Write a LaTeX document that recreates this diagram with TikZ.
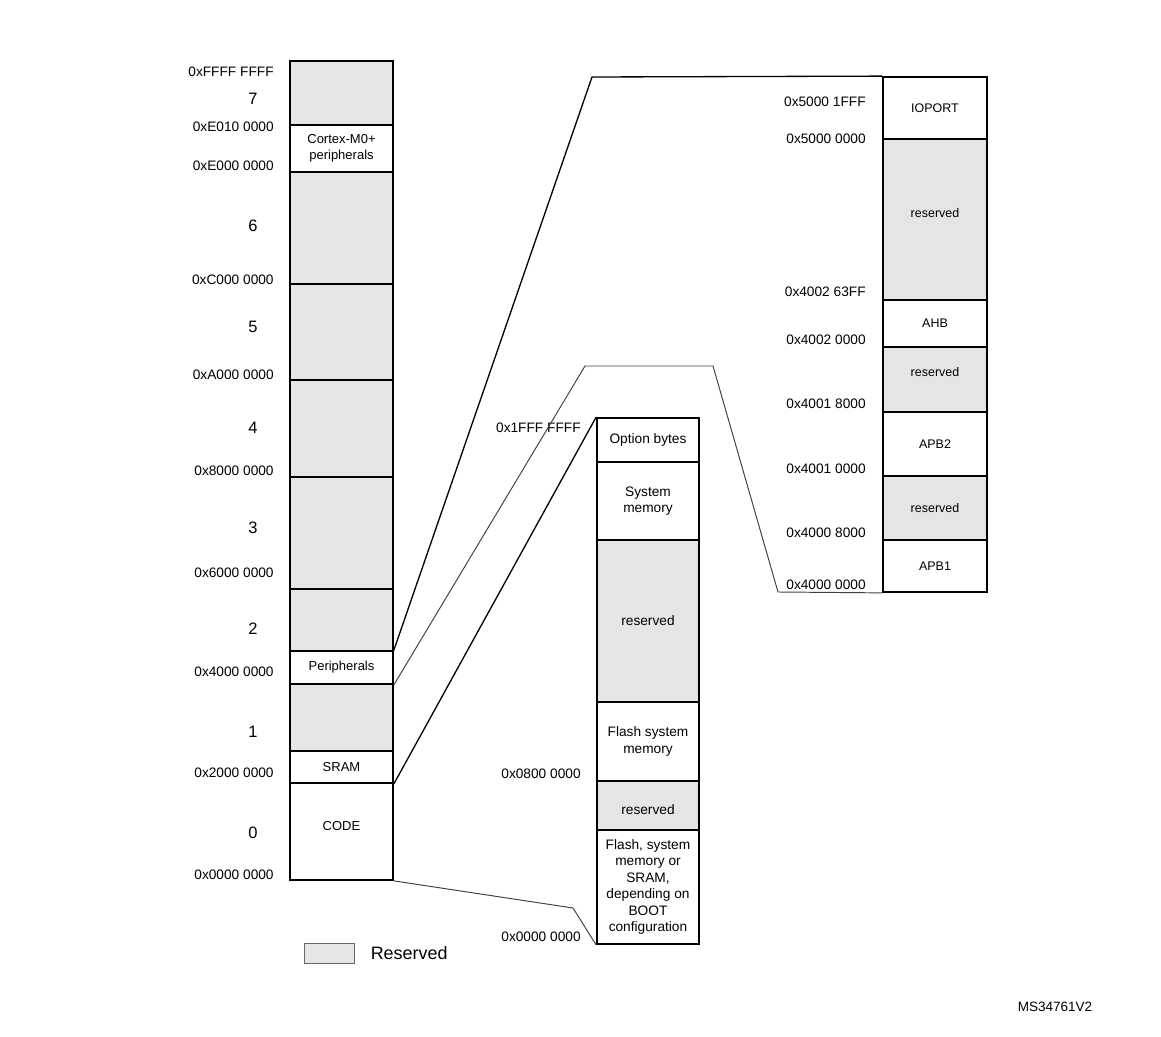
\documentclass[tikz,border=0pt]{standalone}
\usepackage{fontspec}
\setmainfont{Liberation Sans}
\usetikzlibrary{fit}
\usetikzlibrary{positioning}
\definecolor{resgray}{rgb}{0.9,0.9,0.9}

\begin{document}
\begin{tikzpicture}[%
  x=0.02cm, y=-0.02cm,
  blk/.style={draw=black, line width=1pt, fill=white, inner sep=0pt},
  resv/.style={blk, fill=resgray},
  txt/.style={inner sep=0pt, align=center, font=\fontsize{7.4}{9.4}\selectfont},
  midtxt/.style={txt, font=\fontsize{7.8}{9.4}\selectfont},
  rtxt/.style={txt, font=\fontsize{7.1}{9}\selectfont},
  addr/.style={anchor=east, inner sep=0pt, font=\fontsize{7.8}{8}\selectfont},
  region/.style={inner sep=0pt, font=\fontsize{9.4}{10}\selectfont},
  link/.style={line width=0.75pt},
  thinlink/.style={line width=0.55pt, black!75},
]
  \useasboundingbox (0,0) rectangle (1161,1037);

  % system memory map
  \node[resv, fit={(290,61) (393,125)}] (r7) {};
  \node[resv, fit={(290,172) (393,284)}] (r6) {};
  \node[resv, fit={(290,284) (393,380)}] (r5) {};
  \node[resv, fit={(290,380) (393,477)}] (r4) {};
  \node[resv, fit={(290,477) (393,589)}] (r3) {};
  \node[resv, fit={(290,589) (393,651)}] (r2) {};
  \node[resv, fit={(290,684) (393,751)}] (r1) {};
  \node[blk, fit={(290,125) (393,172)}, label={[txt]center:Cortex-M0+\\peripherals}] (cortex) {};
  \node[blk, fit={(290,651) (393,684)}, label={[txt]center:Peripherals}] (periph) {};
  \node[blk, fit={(290,751) (393,783)}, label={[txt]center:SRAM}] (sram) {};
  \node[blk, fit={(290,783) (393,880)}, label={[txt, yshift=0.1cm]center:CODE}] (code) {};

  \foreach \y/\t in {72/0xFFFF FFFF, 127/0xE010 0000, 166/0xE000 0000,
      280/0xC000 0000, 375/0xA000 0000, 471/0x8000 0000, 573/0x6000 0000,
      672/0x4000 0000, 773/0x2000 0000, 875/0x0000 0000}
    \node[addr] (la\y) at (274,\y) {\t};
  \foreach \y/\n in {99/7, 226/6, 327/5, 428/4, 528/3, 629/2, 732/1, 833/0}
    \node[region] (reg\n) at (253,\y) {\n};

  % code area
  \node[blk, fit={(597,418) (699,462)}, label={[midtxt]center:Option bytes}] (optb) {};
  \node[blk, fit={(597,462) (699,540)}, label={[midtxt]center:System\\memory}] (sysmem) {};
  \node[resv, fit={(597,540) (699,702)}, label={[midtxt]center:reserved}] (mres1) {};
  \node[blk, fit={(597,702) (699,781)}, label={[midtxt]center:Flash system\\memory}] (flashsys) {};
  \node[resv, fit={(597,781) (699,830)}, label={[midtxt, yshift=-0.08cm]center:reserved}] (mres2) {};
  \node[blk, fit={(597,830) (699,944)}, label={[midtxt]center:Flash, system\\memory or\\SRAM,\\depending on\\BOOT\\configuration}] (boot) {};

  \node[addr] (lm1) at (581,428) {0x1FFF FFFF};
  \node[addr] (lm2) at (581,774) {0x0800 0000};
  \node[addr] (lm3) at (581,937) {0x0000 0000};

  % peripherals area
  \node[resv, fit={(883,139) (987,300)}, label={[rtxt, yshift=0.12cm]center:reserved}] (pres1) {};
  \node[resv, fit={(883,347) (987,412)}, label={[rtxt, yshift=0.14cm]center:reserved}] (pres2) {};
  \node[resv, fit={(883,476) (987,540)}, label={[rtxt]center:reserved}] (pres3) {};
  \node[blk, fit={(883,77) (987,139)}, label={[rtxt]center:IOPORT}] (ioport) {};
  \node[blk, fit={(883,300) (987,347)}, label={[rtxt]center:AHB}] (ahb) {};
  \node[blk, fit={(883,412) (987,476)}, label={[rtxt]center:APB2}] (apb2) {};
  \node[blk, fit={(883,540) (987,592)}, label={[rtxt]center:APB1}] (apb1) {};

  \foreach \y/\t in {102/0x5000 1FFF, 139/0x5000 0000, 292/0x4002 63FF,
      340/0x4002 0000, 404/0x4001 8000, 469/0x4001 0000, 533/0x4000 8000,
      585/0x4000 0000}
    \node[addr] (lr\y) at (866,\y) {\t};

  % zoom lines
  \coordinate (k1) at (592,77);
  \coordinate (k2) at (585,366);
  \coordinate (k3) at (713,366);
  \coordinate (k4) at (778,592);
  \coordinate (k5) at (573,908);
  \draw[link] (periph.north east) -- (k1) -- (ioport.north west);
  \draw[thinlink] (periph.south east) -- (k2) -- (k3) -- (k4) -- (apb1.south west);
  \draw[link] (sram.south east) -- (optb.north west);
  \draw[thinlink] (code.south east) -- (k5) -- (boot.south west);

  % legend
  \node[resv, draw=black!60, line width=0.5pt, fit={(304,943) (354,963)}] (key) {};
  \node[right=0.32cm of key, inner sep=0pt, font=\fontsize{10.2}{12}\selectfont] (keytext) {Reserved};

  \node[inner sep=0pt, font=\fontsize{7.7}{9}\selectfont] (ref) at (1055,1007) {MS34761V2};

\end{tikzpicture}
\end{document}
